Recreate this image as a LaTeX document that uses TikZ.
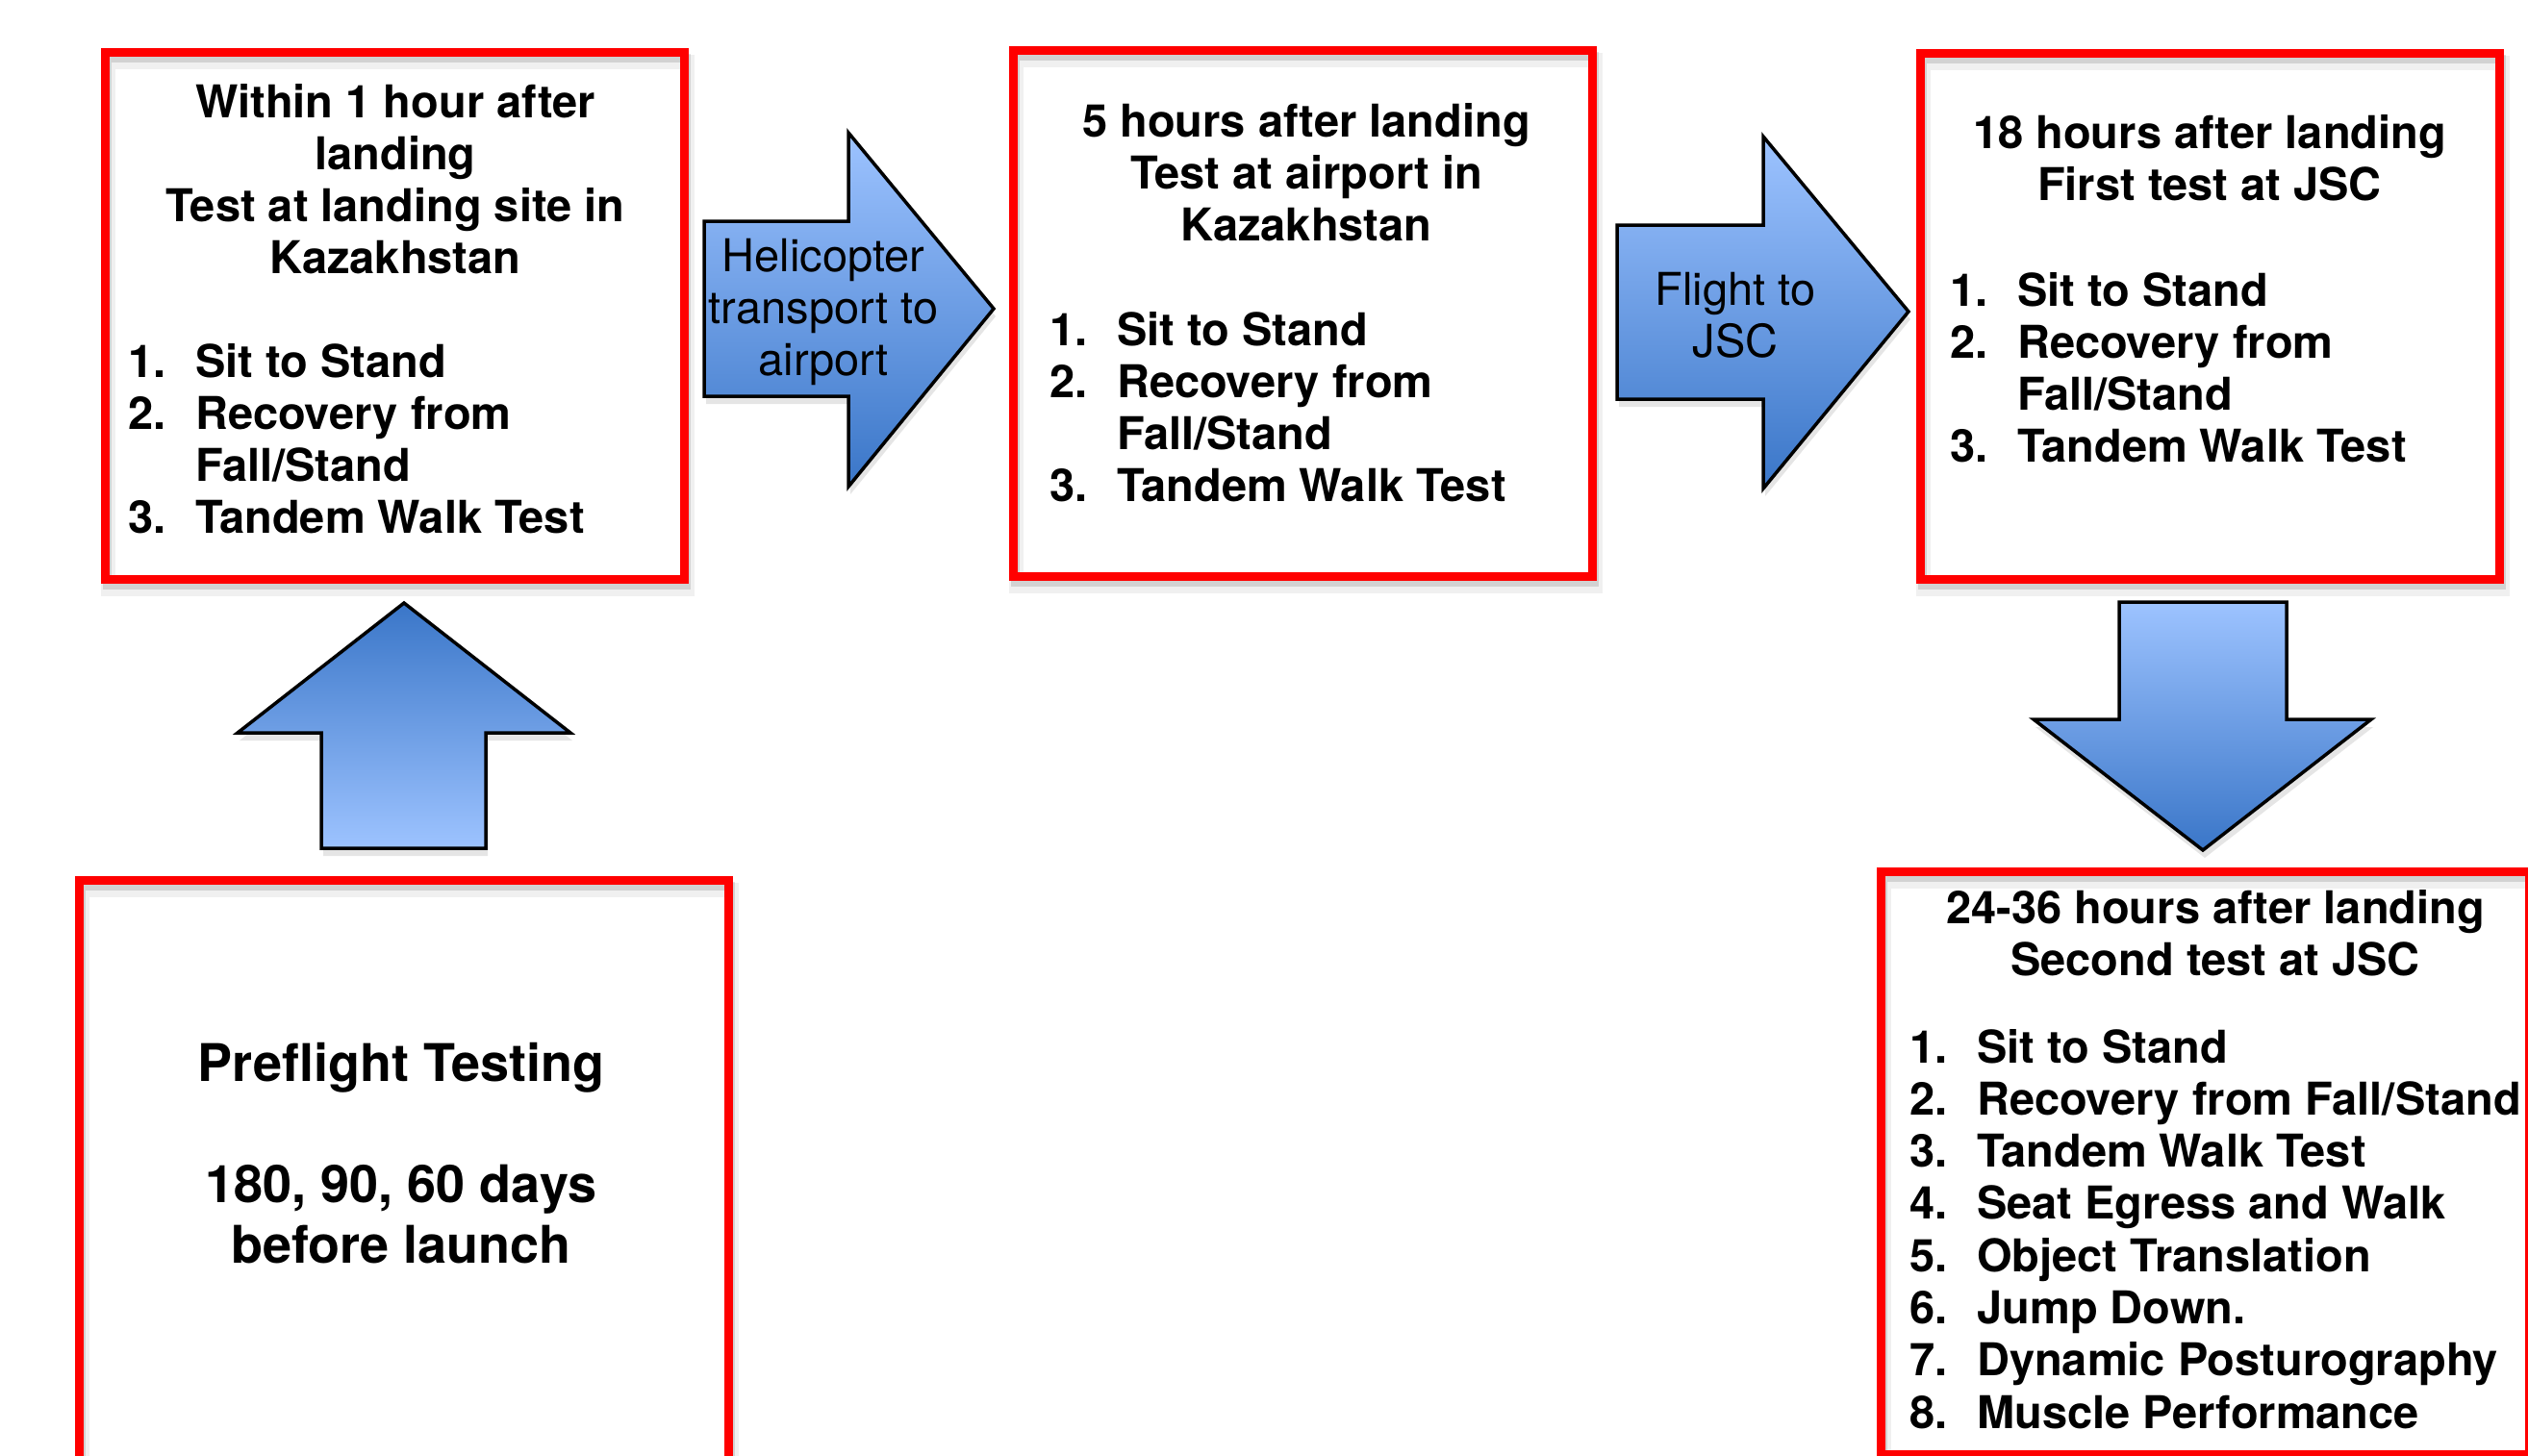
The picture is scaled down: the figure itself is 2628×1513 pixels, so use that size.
\documentclass[tikz,border=0pt]{standalone}
\usepackage{fontspec}
\setmainfont{TeX Gyre Heros}
\definecolor{boxred}{RGB}{255,0,0}
\definecolor{arrlight}{RGB}{157,195,255}
\definecolor{arrdark}{RGB}{58,118,200}
\newcommand{\boxfnt}{\fontsize{47}{54.3}\selectfont\bfseries}
\newcommand{\arrfnt}{\fontsize{47}{54.3}\selectfont}
\newcommand{\prefnt}{\fontsize{54}{63}\selectfont\bfseries}
\newcommand{\numbx}[1]{\makebox[70pt][l]{#1}}
\newcommand{\arrA}{(732,230) -- (882,230) -- (882,138) -- (1033,321) -- (882,506) -- (882,412) -- (732,412) -- cycle}
\newcommand{\arrB}{(1681,234) -- (1833,234) -- (1833,142) -- (1984,324) -- (1833,508) -- (1833,415) -- (1681,415) -- cycle}
\newcommand{\arrC}{(2203,626) -- (2377,626) -- (2377,748) -- (2465,748) -- (2290,884) -- (2114,748) -- (2203,748) -- cycle}
\newcommand{\arrD}{(334,882) -- (505,882) -- (505,762) -- (593,762) -- (420,627) -- (247,762) -- (334,762) -- cycle}
\begin{document}
\begin{tikzpicture}[x=1pt,y=-1pt,
  redbox/.style={draw=boxred, line width=9pt, rectangle, inner sep=0pt, outer sep=0pt},
  shadowA/.style={draw=black, line width=15pt, opacity=0.06},
  shadowB/.style={draw=black, line width=9pt, opacity=0.12},
  arrshadow/.style={fill=black, opacity=0.10},
  blockarrow/.style={draw=black, line width=3.5pt, line join=miter},
  titletext/.style={inner sep=0pt, anchor=base, font=\boxfnt},
  listtext/.style={inner sep=0pt, anchor=base west, font=\boxfnt},
  arrowtext/.style={inner sep=0pt, anchor=base, font=\arrfnt},
  pretext/.style={inner sep=0pt, anchor=base, font=\prefnt}]
\useasboundingbox (0,0) rectangle (2628,1513);
\fill[white] (0,0) rectangle (2628,1513);
\clip (0,0) rectangle (2628,1513);

% box frames (named, no fill)
\path
  (410.5,328.5)  node[minimum width=602pt, minimum height=548pt, inner sep=0pt, outer sep=0pt] (b1) {}
  (1354.5,326)   node[minimum width=602pt, minimum height=547pt, inner sep=0pt, outer sep=0pt] (b2) {}
  (2297.5,329)   node[minimum width=602pt, minimum height=547pt, inner sep=0pt, outer sep=0pt] (b3) {}
  (2292.5,1209.5) node[minimum width=674pt, minimum height=606pt, inner sep=0pt, outer sep=0pt] (b5) {}
  (420,1228)     node[minimum width=675pt, minimum height=625pt, inner sep=0pt, outer sep=0pt] (b6) {};

% shadows of the frames
\foreach \b in {b1,b2,b3,b5,b6}{
  \draw[shadowA] ([shift={(3,10)}]\b.north west) rectangle ([shift={(3,10)}]\b.south east);
  \draw[shadowB] ([shift={(2,6)}]\b.north west) rectangle ([shift={(2,6)}]\b.south east);
}

% shadows of the block arrows
\fill[arrshadow, shift={(2,8)}] \arrA;
\fill[arrshadow, shift={(2,8)}] \arrB;
\fill[arrshadow, shift={(2,8)}] \arrC;
\fill[arrshadow, shift={(2,8)}] \arrD;

% block arrows
\shadedraw[blockarrow, top color=arrlight, bottom color=arrdark] \arrA;
\shadedraw[blockarrow, top color=arrlight, bottom color=arrdark] \arrB;
\shadedraw[blockarrow, top color=arrlight, bottom color=arrdark] \arrC;
\shadedraw[blockarrow, top color=arrdark, bottom color=arrlight] \arrD;

% red frames
\foreach \b in {b1,b2,b3,b5,b6}{
  \draw[redbox] (\b.north west) rectangle (\b.south east);
}

% box 1
\node[titletext] (t1) at (411,122) {\begin{tabular}[t]{@{}c@{}}Within 1 hour after\\ landing\\ Test at landing site in\\ Kazakhstan\end{tabular}};
\node[listtext] (l1) at (133,392) {\begin{tabular}[t]{@{}l@{}}\numbx{1.}Sit to Stand\\ \numbx{2.}Recovery from\\ \numbx{}Fall/Stand\\ \numbx{3.}Tandem Walk Test\end{tabular}};

% arrow 1 text
\node[arrowtext] (a1) at (856,282) {\begin{tabular}[t]{@{}c@{}}Helicopter\\ transport to\\ airport\end{tabular}};

% box 2
\node[titletext] (t2) at (1358,142) {\begin{tabular}[t]{@{}c@{}}5 hours after landing\\ Test at airport in\\ Kazakhstan\end{tabular}};
\node[listtext] (l2) at (1091,359) {\begin{tabular}[t]{@{}l@{}}\numbx{1.}Sit to Stand\\ \numbx{2.}Recovery from\\ \numbx{}Fall/Stand\\ \numbx{3.}Tandem Walk Test\end{tabular}};

% arrow 2 text
\node[arrowtext] (a2) at (1804,317) {\begin{tabular}[t]{@{}c@{}}Flight to\\ JSC\end{tabular}};

% box 3
\node[titletext] (t3) at (2297,154) {\begin{tabular}[t]{@{}c@{}}18 hours after landing\\ First test at JSC\end{tabular}};
\node[listtext] (l3) at (2027,318) {\begin{tabular}[t]{@{}l@{}}\numbx{1.}Sit to Stand\\ \numbx{2.}Recovery from\\ \numbx{}Fall/Stand\\ \numbx{3.}Tandem Walk Test\end{tabular}};

% box 5
\node[titletext] (t5) at (2303,960) {\begin{tabular}[t]{@{}c@{}}24-36 hours after landing\\ Second test at JSC\end{tabular}};
\node[listtext] (l5) at (1985,1105) {\begin{tabular}[t]{@{}l@{}}\numbx{1.}Sit to Stand\\ \numbx{2.}Recovery from Fall/Stand\\ \numbx{3.}Tandem Walk Test\\ \numbx{4.}Seat Egress and Walk\\ \numbx{5.}Object Translation\\ \numbx{6.}Jump Down.\\ \numbx{7.}Dynamic Posturography\\ \numbx{8.}Muscle Performance\end{tabular}};

% box 6
\node[pretext] (t6) at (417,1124) {\begin{tabular}[t]{@{}c@{}}Preflight Testing\\ \\ 180, 90, 60 days\\ before launch\end{tabular}};
\end{tikzpicture}
\end{document}
